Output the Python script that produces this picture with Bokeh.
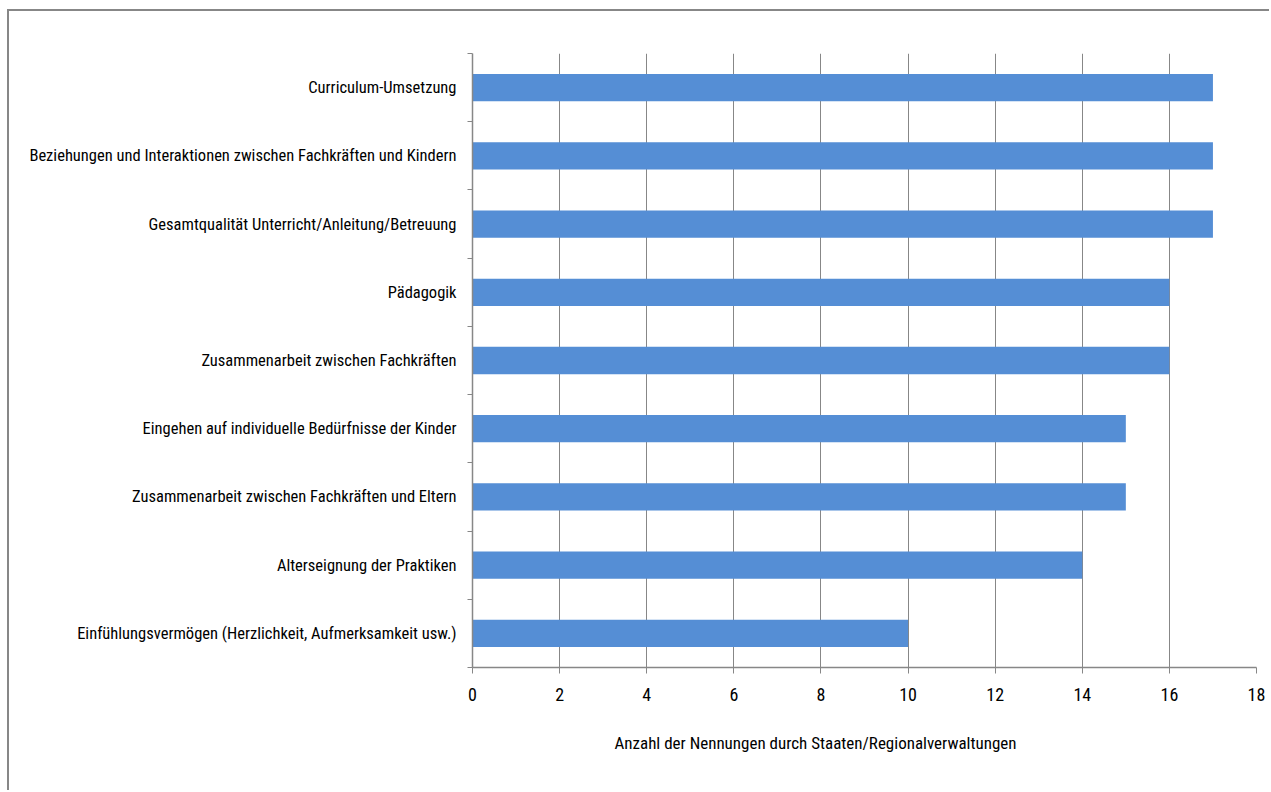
from bokeh.plotting import figure
from bokeh.models import FixedTicker, Title
from bokeh.embed import file_html
from bokeh.resources import INLINE

categories = [
    "Curriculum-Umsetzung",
    "Beziehungen und Interaktionen zwischen Fachkräften und Kindern",
    "Gesamtqualität Unterricht/Anleitung/Betreuung",
    "Pädagogik",
    "Zusammenarbeit zwischen Fachkräften",
    "Eingehen auf individuelle Bedürfnisse der Kinder",
    "Zusammenarbeit zwischen Fachkräften und Eltern",
    "Alterseignung der Praktiken",
    "Einfühlungsvermögen (Herzlichkeit, Aufmerksamkeit usw.)",
]
values = [17, 17, 17, 16, 16, 15, 15, 14, 10]
x_ticks = [0, 2, 4, 6, 8, 10, 12, 14, 16, 18]
x_label = "Anzahl der Nennungen durch Staaten/Regionalverwaltungen"

FONT = "Roboto Condensed"
GRAY = "#878787"
n = len(categories)
ypos = [n - 1 - i for i in range(n)]

p = figure(width=1262, height=781, x_range=(0, 18), y_range=(-0.5, n - 0.5),
           output_backend="svg", toolbar_location=None,
           min_border_left=463, min_border_right=15, min_border_top=42, min_border_bottom=125,
           margin=(9, 0, 0, 7),
           styles={"border-top": "2px solid " + GRAY, "border-left": "2px solid " + GRAY})
p.outline_line_color = None

p.hbar(y=ypos, left=0, right=values, height=0.4, fill_color="#558ed5", line_color=None)

# x axis
p.xaxis.ticker = FixedTicker(ticks=x_ticks)
p.xaxis.axis_line_color = GRAY
p.xaxis.axis_line_width = 1.5
p.xaxis.major_tick_line_color = GRAY
p.xaxis.major_tick_out = 6
p.xaxis.major_tick_in = 0
p.xaxis.minor_tick_line_color = None
p.xaxis.major_label_text_font = FONT
p.xaxis.major_label_text_font_size = "18px"
p.xaxis.major_label_text_color = "#000000"
p.xaxis.major_label_standoff = 14

# y axis
p.yaxis.ticker = FixedTicker(ticks=ypos, minor_ticks=[k - 0.5 for k in range(n + 1)])
p.yaxis.major_label_overrides = {y: c for y, c in zip(ypos, categories)}
p.yaxis.axis_line_color = GRAY
p.yaxis.axis_line_width = 1.5
p.yaxis.major_tick_line_color = None
p.yaxis.major_tick_out = 0
p.yaxis.major_tick_in = 0
p.yaxis.minor_tick_line_color = GRAY
p.yaxis.minor_tick_out = 5
p.yaxis.minor_tick_in = 0
p.yaxis.major_label_text_font = FONT
p.yaxis.major_label_text_font_size = "16.5px"
p.yaxis.major_label_text_color = "#000000"
p.yaxis.major_label_standoff = 11

p.xgrid.grid_line_color = GRAY
p.ygrid.grid_line_color = None

p.add_layout(Title(text=x_label, align="left", offset=142, standoff=54,
                   text_font=FONT, text_font_size="17px",
                   text_font_style="normal", text_color="#000000"), "below")

open("out.html", "w").write(file_html(p, INLINE))
